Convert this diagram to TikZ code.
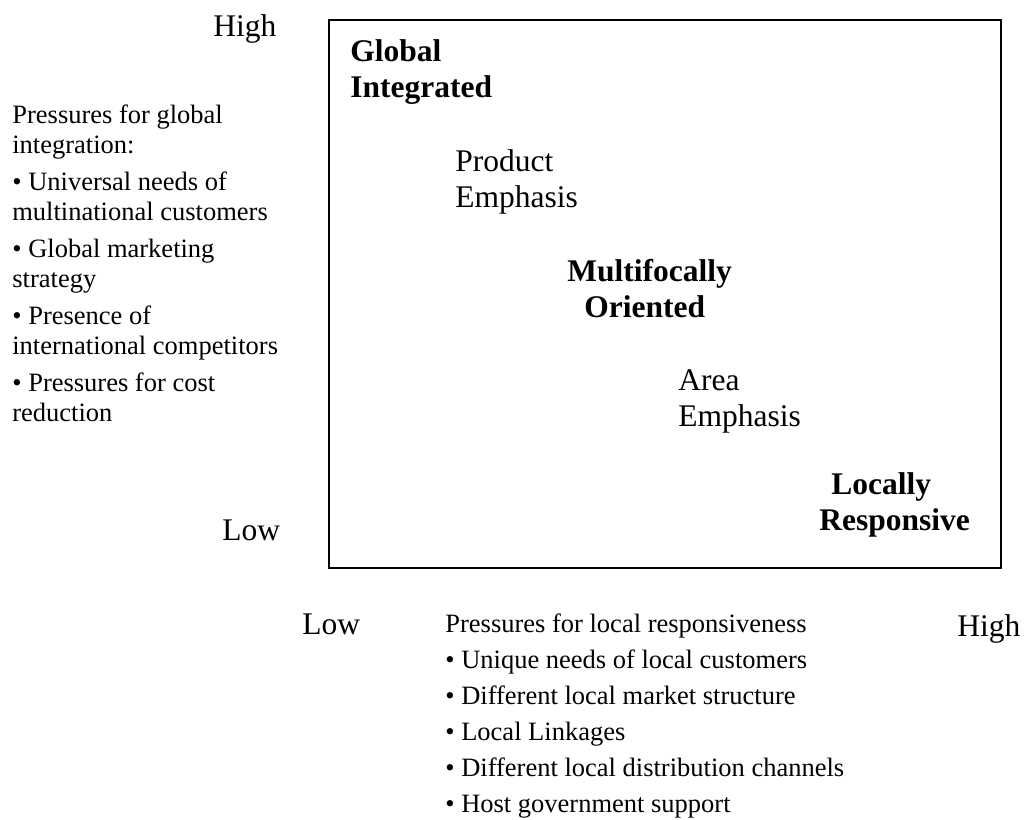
\documentclass[tikz,border=0pt]{standalone}
\usepackage{fontspec}
\setmainfont{Liberation Serif}

\tikzset{
  every picture/.style={line width=0.75pt},
  biglabel/.style={anchor=base west, inner sep=0pt, align=left, font=\fontsize{31.5}{35.5}\selectfont},
  boldlabel/.style={anchor=base west, inner sep=0pt, align=left, font=\fontsize{31.5}{35.5}\selectfont\bfseries},
  sidelist/.style={anchor=base west, inner sep=0pt, align=left, font=\fontsize{26.5}{30}\selectfont},
  bottomlist/.style={anchor=base west, inner sep=0pt, align=left, font=\fontsize{26.5}{36}\selectfont},
}

\begin{document}
\begin{tikzpicture}[x=1pt,y=1pt,yscale=-1,xscale=1]
\useasboundingbox (0,0) rectangle (1027,819);

%Shape: Rectangle
\draw [line width=2pt] (329,20) rectangle (1001,568);

% Vertical axis (base = last line)
\node [biglabel] (highY) at (213,36) {High};
\node [biglabel] (lowY) at (222,540) {Low};
\node [sidelist] (globalPress) at (12,421) {Pressures for global\\integration:\\[7pt]
  • Universal needs of\\multinational customers\\[7pt]
  • Global marketing\\strategy\\[7pt]
  • Presence of\\international competitors\\[7pt]
  • Pressures for cost\\reduction};

% Inside the box
\node [boldlabel] (globalInt) at (350,97) {Global\\Integrated};
\node [biglabel] (productEmph) at (455,207) {Product\\Emphasis};
\node [boldlabel] (multiFocal) at (567,317) {Multifocally\\\hspace*{17pt}Oriented};
\node [biglabel] (areaEmph) at (678,426) {Area\\Emphasis};
\node [boldlabel] (localResp) at (819,530) {\hspace*{12pt}Locally\\Responsive};

% Horizontal axis
\node [biglabel] (lowX) at (302,634) {Low};
\node [biglabel] (highX) at (957,636) {High};
\node [bottomlist] (localPress) at (445,812) {Pressures for local responsiveness\\
  • Unique needs of local customers\\
  • Different local market structure\\
  • Local Linkages\\
  • Different local distribution channels\\
  • Host government support};

\end{tikzpicture}
\end{document}
